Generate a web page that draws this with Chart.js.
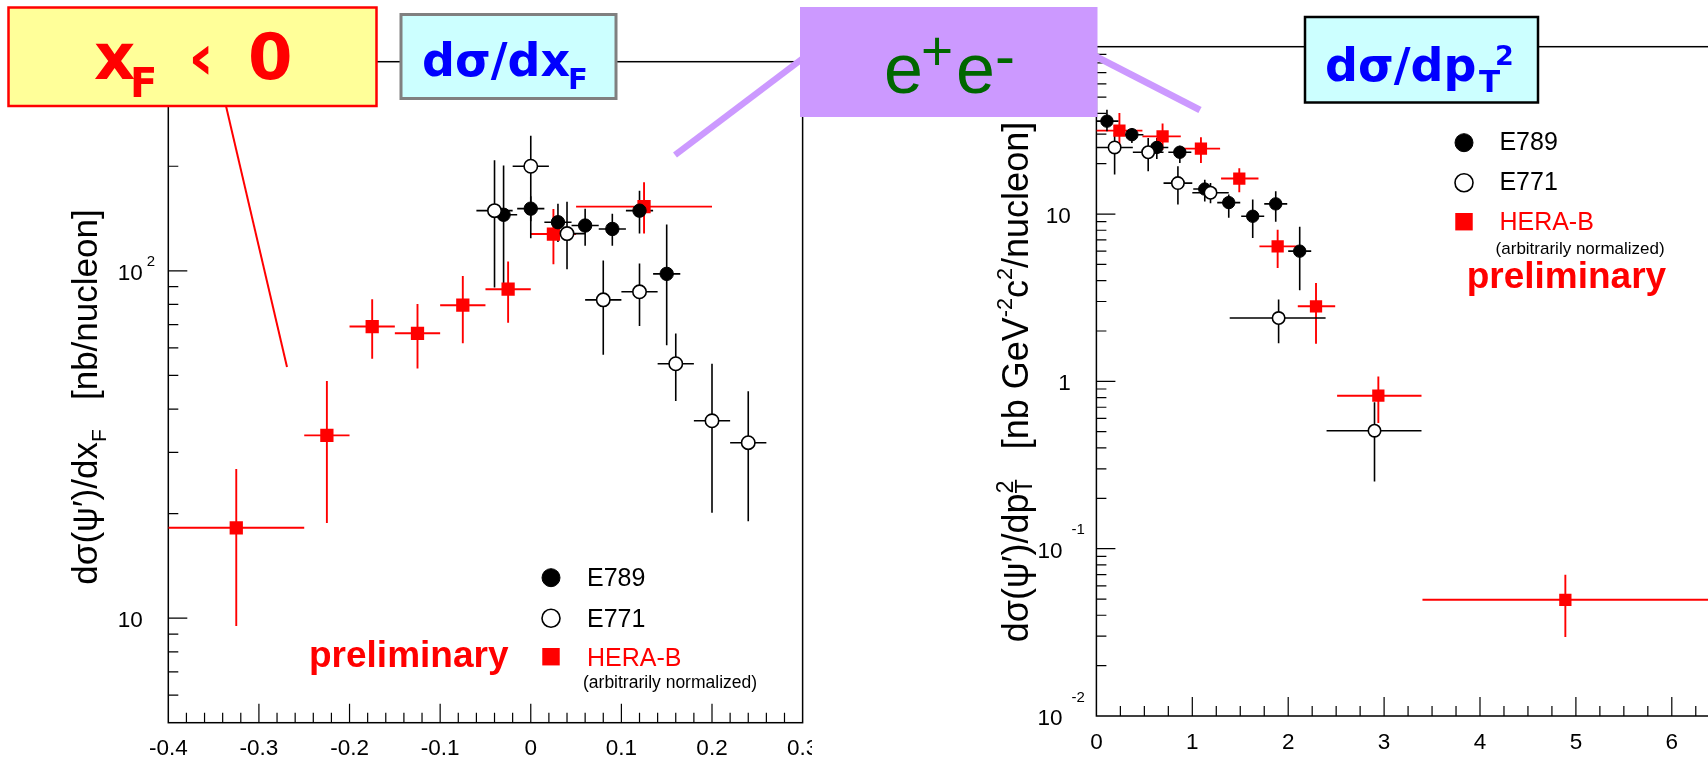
<!DOCTYPE html>
<html lang="en">
<head>
<meta charset="utf-8">
<title>psi' differential cross sections</title>
<script src="https://cdn.jsdelivr.net/npm/chart.js"></script>
<style>
    body {
        margin: 0;
        width: 1708px;
        height: 762px;
        overflow: hidden;
        position: relative;
        background: #fff;
    }
    canvas, svg { position: absolute; top: 0; }
    #xfChart { left: 0; }
    #ptChart { left: 812px; }
    #notes { left: 0; pointer-events: none; }
    .bold { font-family: "DejaVu Sans", Verdana, sans-serif; font-weight: bold; }
    .plain { font-family: "Liberation Sans", Arial, sans-serif; }
</style>
</head>
<body>
<canvas id="xfChart" width="812" height="762"></canvas>
<canvas id="ptChart" width="968" height="762"></canvas>

<svg id="notes" width="1708" height="762">
    <!-- callout lines go under the boxes -->
    <line x1="226" y1="106" x2="287" y2="367" stroke="#ff0000" stroke-width="2"/>
    <line x1="802" y1="59" x2="675" y2="155" stroke="#cc99ff" stroke-width="6.5"/>
    <line x1="1095" y1="56" x2="1200" y2="110" stroke="#cc99ff" stroke-width="7"/>

    <rect x="8.5" y="7.5" width="368" height="98.5" fill="#ffff99" stroke="#ff0000" stroke-width="2.5"/>
    <g class="bold" fill="#ff0000">
        <text x="94" y="79" font-size="64">x</text>
        <text x="130" y="97" font-size="40">F</text>
        <text x="188" y="79" font-size="64">‹</text>
        <text x="248" y="79" font-size="64">0</text>
    </g>

    <rect x="401" y="14.5" width="215" height="84" fill="#ccffff" stroke="#808080" stroke-width="3"/>
    <g class="bold" fill="#0000ff">
        <text x="422" y="76" font-size="46">dσ/dx</text>
        <text x="568" y="89" font-size="29">F</text>
    </g>

    <rect x="800" y="7" width="297.5" height="110" fill="#cc99ff"/>
    <g class="plain" fill="#006600">
        <text x="884" y="93" font-size="70">e</text>
        <text x="921" y="70" font-size="55">+</text>
        <text x="956" y="93" font-size="70">e</text>
        <text x="995" y="76" font-size="60">-</text>
    </g>

    <rect x="1305" y="17" width="233" height="85.5" fill="#ccffff" stroke="#000" stroke-width="2.5"/>
    <g class="bold" fill="#0000ff">
        <text x="1325" y="81" font-size="46">dσ/dp</text>
        <text x="1479" y="92" font-size="31">T</text>
        <text x="1495" y="65" font-size="27">2</text>
    </g>
</svg>

<script>
    // ---- dσ/dxF ----
    const xfE789X   = [-0.03, 0.00, 0.03, 0.06, 0.09, 0.12, 0.15];
    const xfE789Y   = [145, 151, 138, 135, 132, 149, 98];
    const xfE789Lo  = [88, 139, 121, 118, 118, 128, 61];
    const xfE789Hi  = [201, 164, 156, 151, 146, 170, 136];
    const xfE789XLo = [-0.045, -0.015, 0.015, 0.045, 0.075, 0.105, 0.135];
    const xfE789XHi = [-0.015, 0.015, 0.045, 0.075, 0.105, 0.135, 0.165];

    const xfE771X   = [-0.04, 0.00, 0.04, 0.08, 0.12, 0.16, 0.20, 0.24];
    const xfE771Y   = [149, 200, 128, 82.5, 87, 54, 37, 32];
    const xfE771Lo  = [89.5, 124, 101, 57.3, 69.4, 42.2, 20.1, 19];
    const xfE771Hi  = [208, 245, 158, 107, 105, 66, 54, 45];
    const xfE771XLo = [-0.06, -0.02, 0.02, 0.06, 0.10, 0.14, 0.18, 0.22];
    const xfE771XHi = [-0.02, 0.02, 0.06, 0.10, 0.14, 0.18, 0.22, 0.26];

    const xfHeraX   = [-0.325, -0.225, -0.175, -0.125, -0.075, -0.025, 0.025, 0.125];
    const xfHeraY   = [18.2, 33.6, 69.1, 66.1, 79.6, 88.5, 127.6, 153];
    const xfHeraLo  = [9.5, 18.8, 55.8, 52.3, 61.9, 70.9, 104.5, 128];
    const xfHeraHi  = [26.9, 48.2, 82.8, 80.3, 96.7, 106.4, 150.6, 180];
    const xfHeraXLo = [-0.4, -0.25, -0.2, -0.15, -0.1, -0.05, 0.0, 0.05];
    const xfHeraXHi = [-0.25, -0.2, -0.15, -0.1, -0.05, 0.0, 0.05, 0.2];

    const xfXTicks  = [-0.4, -0.3, -0.2, -0.1, 0, 0.1, 0.2, 0.3];
    const xfXLabels = ['-0.4', '-0.3', '-0.2', '-0.1', '0', '0.1', '0.2', '0.3'];
    const xfYTicks  = [10, 100];
    const xfYLabels = [['10', ''], ['10', '2']];

    // ---- dσ/dpT² ----
    const ptE789X   = [0.11, 0.37, 0.63, 0.87, 1.13, 1.38, 1.63, 1.87, 2.12];
    const ptE789Y   = [35.9, 29.8, 25.0, 23.4, 14.1, 11.7, 9.7, 11.5, 6.0];
    const ptE789Lo  = [31.2, 26.6, 21.3, 20.2, 11.9, 9.5, 7.2, 9.0, 3.5];
    const ptE789Hi  = [42.0, 32.7, 28.5, 25.6, 16.0, 13.1, 12.2, 13.7, 8.4];
    const ptE789XLo = [0.0, 0.25, 0.51, 0.75, 1.01, 1.26, 1.51, 1.75, 2.0];
    const ptE789XHi = [0.23, 0.49, 0.75, 0.99, 1.25, 1.50, 1.75, 1.99, 2.24];

    const ptE771X   = [0.19, 0.54, 0.85, 1.19, 1.90, 2.90];
    const ptE771Y   = [25.0, 23.4, 15.3, 13.4, 2.39, 0.507];
    const ptE771Lo  = [17.2, 18.0, 11.4, 11.6, 1.69, 0.252];
    const ptE771Hi  = [30.5, 28.5, 19.3, 15.3, 3.08, 0.75];
    const ptE771XLo = [0.0, 0.38, 0.70, 1.00, 1.39, 2.40];
    const ptE771XHi = [0.38, 0.70, 1.00, 1.38, 2.39, 3.39];

    const ptHeraX   = [0.24, 0.69, 1.09, 1.49, 1.89, 2.29, 2.94, 4.89];
    const ptHeraY   = [31.5, 29.1, 24.6, 16.3, 6.41, 2.81, 0.821, 0.0495];
    const ptHeraLo  = [24.8, 24.2, 20.2, 13.5, 4.75, 1.68, 0.563, 0.0297];
    const ptHeraHi  = [40.2, 34.7, 28.8, 18.8, 8.06, 3.87, 1.07, 0.0698];
    const ptHeraXLo = [0.0, 0.48, 0.88, 1.30, 1.70, 2.10, 2.51, 3.40];
    const ptHeraXHi = [0.48, 0.88, 1.29, 1.69, 2.10, 2.49, 3.39, 7.0];

    const ptXTicks  = [0, 1, 2, 3, 4, 5, 6, 7];
    const ptXLabels = ['0', '1', '2', '3', '4', '5', '6', '7'];
    const ptYTicks  = [0.01, 0.1, 1, 10, 100];
    const ptYLabels = [['10', '-2'], ['10', '-1'], ['1', ''], ['10', ''], ['10', '2']];

    const FONT = '"Liberation Sans", Arial, Helvetica, sans-serif';

    // rich text: plain runs, shifted runs (sub/sup) and stacked sub+sup
    function partWidth(ctx, p, size) {
        ctx.font = `${size * (p.scale || 1)}px ${FONT}`;
        if (p.stack) return Math.max(...p.stack.map(t => ctx.measureText(t).width));
        return ctx.measureText(p.t).width;
    }
    function drawRich(ctx, parts, x, y, size) {
        let cx = x;
        ctx.textAlign = 'left';
        ctx.textBaseline = 'alphabetic';
        for (const p of parts) {
            const w = partWidth(ctx, p, size);
            if (p.stack) {
                ctx.fillText(p.stack[0], cx, y + p.dy[0]);
                ctx.fillText(p.stack[1], cx, y + p.dy[1]);
            } else {
                ctx.fillText(p.t, cx, y + (p.dy || 0));
            }
            cx += w;
        }
        return cx - x;
    }
    function richWidth(ctx, parts, size) {
        return parts.reduce((s, p) => s + partWidth(ctx, p, size), 0);
    }

    function drawMarker(ctx, ds, x, y, r) {
        ctx.save();
        ctx.fillStyle = ds.backgroundColor;
        ctx.strokeStyle = ds.borderColor;
        ctx.lineWidth = ds.borderWidth;
        ctx.beginPath();
        if (ds.pointStyle === 'rect') {
            const h = r * 0.97;
            ctx.rect(x - h, y - h, 2 * h, 2 * h);
            ctx.fill();
        } else {
            ctx.arc(x, y, r, 0, Math.PI * 2);
            ctx.fill();
            ctx.stroke();
        }
        ctx.restore();
    }

    // ROOT-like frame: ticks inside the box, log minors, exponent labels,
    // error bars and the legend
    function rootFrame(cfg) {
        return {
            id: 'rootFrame',
            beforeDatasetsDraw(chart) {
                const { ctx, chartArea: a, scales: { x, y } } = chart;
                ctx.save();
                ctx.strokeStyle = '#000';
                ctx.fillStyle = '#000';
                ctx.lineWidth = 1.5;
                ctx.strokeRect(a.left, a.top, a.width, a.height);

                ctx.lineWidth = 1.2;
                ctx.beginPath();
                const n = Math.round((x.max - x.min) / cfg.xMinorStep);
                for (let i = 1; i < n; i++) {
                    const v = x.min + i * cfg.xMinorStep;
                    const major = cfg.xTicks.some(t => Math.abs(t - v) < 1e-9);
                    const px = x.getPixelForValue(v);
                    ctx.moveTo(px, a.bottom);
                    ctx.lineTo(px, a.bottom - (major ? cfg.majorLen : cfg.minorLen));
                }
                for (let e = Math.floor(Math.log10(y.min)); e <= Math.ceil(Math.log10(y.max)); e++) {
                    for (let m = 1; m <= 9; m++) {
                        const v = m * Math.pow(10, e);
                        if (v <= y.min * 1.0001 || v >= y.max * 0.9999) continue;
                        const py = y.getPixelForValue(v);
                        ctx.moveTo(a.left, py);
                        ctx.lineTo(a.left + (m === 1 ? cfg.majorLen : cfg.minorLen), py);
                    }
                }
                ctx.stroke();

                // tick labels
                ctx.textBaseline = 'alphabetic';
                ctx.font = `${cfg.labelSize}px ${FONT}`;
                ctx.textAlign = 'center';
                cfg.xTicks.forEach((v, i) => {
                    ctx.fillText(cfg.xLabels[i], x.getPixelForValue(v), cfg.xLabelY);
                });
                cfg.yTicks.forEach((v, i) => {
                    const [base, exp] = cfg.yLabels[i];
                    const py = y.getPixelForValue(v);
                    const right = a.left - cfg.yLabelGap - (exp ? cfg.expShift : 0);
                    ctx.font = `${cfg.labelSize}px ${FONT}`;
                    ctx.textAlign = 'right';
                    ctx.fillText(base, right, py + cfg.yLabelDy);
                    if (exp) {
                        ctx.font = `${cfg.expSize}px ${FONT}`;
                        ctx.textAlign = 'left';
                        ctx.fillText(exp, right + cfg.expGap, py + cfg.expDy);
                    }
                });

                // rotated y title
                ctx.save();
                ctx.translate(cfg.titleX, cfg.titleY);
                ctx.rotate(-Math.PI / 2);
                const w = richWidth(ctx, cfg.title, cfg.titleSize);
                drawRich(ctx, cfg.title, -w / 2, 0, cfg.titleSize);
                ctx.restore();

                // error bars, back to front
                ctx.beginPath();
                ctx.rect(a.left, a.top, a.width, a.height);
                ctx.clip();
                const sets = chart.data.datasets.slice().sort((p, q) => q.order - p.order);
                for (const ds of sets) {
                    ctx.strokeStyle = ds.borderColor;
                    ctx.lineWidth = ds.errWidth;
                    ctx.beginPath();
                    ds.data.forEach((pt, i) => {
                        const px = x.getPixelForValue(pt.x);
                        const py = y.getPixelForValue(pt.y);
                        ctx.moveTo(px, y.getPixelForValue(ds.errLo[i]));
                        ctx.lineTo(px, y.getPixelForValue(ds.errHi[i]));
                        ctx.moveTo(x.getPixelForValue(ds.binLo[i]), py);
                        ctx.lineTo(x.getPixelForValue(ds.binHi[i]), py);
                    });
                    ctx.stroke();
                }
                ctx.restore();
            },
            afterDatasetsDraw(chart) {
                const { ctx } = chart;
                const lg = cfg.legend;
                ctx.save();
                ctx.textAlign = 'left';
                ctx.textBaseline = 'alphabetic';
                chart.data.datasets.forEach((ds, i) => {
                    drawMarker(ctx, ds, lg.mx, lg.my[i], lg.r);
                    ctx.font = `${lg.size}px ${FONT}`;
                    ctx.fillStyle = ds.textColor;
                    ctx.fillText(ds.label, lg.tx, lg.ty[i]);
                });
                ctx.font = `${lg.noteSize}px ${FONT}`;
                ctx.fillStyle = '#000';
                ctx.fillText('(arbitrarily normalized)', lg.noteX, lg.noteY);
                ctx.fillStyle = '#ff0000';
                ctx.font = `bold ${lg.preSize}px ${FONT}`;
                ctx.fillText('preliminary', lg.preX, lg.preY);
                ctx.restore();
            }
        };
    }

    function makeSet(label, xs, ys, lo, hi, xLo, xHi, look) {
        return Object.assign({
            label: label,
            data: xs.map((x, i) => ({ x: x, y: ys[i] })),
            errLo: lo, errHi: hi, binLo: xLo, binHi: xHi
        }, look);
    }

    function looks(r) {
        return {
            e789: { pointStyle: 'circle', pointRadius: r, backgroundColor: '#000', borderColor: '#000',
                    borderWidth: 1, errWidth: 1.6, order: 2, textColor: '#000' },
            e771: { pointStyle: 'circle', pointRadius: r, backgroundColor: '#fff', borderColor: '#000',
                    borderWidth: 1.6, errWidth: 1.6, order: 1, textColor: '#000' },
            hera: { pointStyle: 'rect', pointRadius: r * 1.4, backgroundColor: '#ff0000', borderColor: '#ff0000',
                    borderWidth: 0, errWidth: 1.9, order: 3, textColor: '#ff0000' }
        };
    }

    function baseOptions(pad, xr, yr) {
        return {
            responsive: false,
            animation: false,
            events: [],
            layout: { padding: pad },
            plugins: { legend: { display: false }, tooltip: { enabled: false } },
            scales: {
                x: { type: 'linear', min: xr[0], max: xr[1], display: false },
                y: { type: 'logarithmic', min: yr[0], max: yr[1], display: false }
            }
        };
    }

    const lk1 = looks(6.7);
    new Chart(document.getElementById('xfChart'), {
        type: 'scatter',
        data: {
            datasets: [
                makeSet('E789', xfE789X, xfE789Y, xfE789Lo, xfE789Hi, xfE789XLo, xfE789XHi, lk1.e789),
                makeSet('E771', xfE771X, xfE771Y, xfE771Lo, xfE771Hi, xfE771XLo, xfE771XHi, lk1.e771),
                makeSet('HERA-B', xfHeraX, xfHeraY, xfHeraLo, xfHeraHi, xfHeraXLo, xfHeraXHi, lk1.hera)
            ]
        },
        options: baseOptions({ left: 168.3, right: 6, top: 61.7, bottom: 39.3 }, [-0.4, 0.3], [5, 400]),
        plugins: [rootFrame({
            xTicks: xfXTicks, xLabels: xfXLabels, yTicks: xfYTicks, yLabels: xfYLabels,
            xMinorStep: 0.02, majorLen: 19, minorLen: 10,
            labelSize: 22.5, xLabelY: 755, yLabelGap: 25.6, yLabelDy: 9,
            expShift: 0, expGap: 4, expSize: 15, expDy: -5,
            titleX: 97, titleY: 397, titleSize: 35,
            title: [{ t: 'dσ(ψ′)/dx' }, { t: 'F', scale: 0.6, dy: 9 }, { t: '   [nb/nucleon]' }],
            legend: { mx: 551, my: [577.7, 618.3, 656.7], r: 9, tx: 587, ty: [586, 626.5, 666], size: 25,
                      noteX: 583, noteY: 688, noteSize: 17.5, preX: 309, preY: 667, preSize: 37 }
        })]
    });

    const lk2 = looks(6.2);
    new Chart(document.getElementById('ptChart'), {
        type: 'scatter',
        data: {
            datasets: [
                makeSet('E789', ptE789X, ptE789Y, ptE789Lo, ptE789Hi, ptE789XLo, ptE789XHi, lk2.e789),
                makeSet('E771', ptE771X, ptE771Y, ptE771Lo, ptE771Hi, ptE771XLo, ptE771XHi, lk2.e771),
                makeSet('HERA-B', ptHeraX, ptHeraY, ptHeraLo, ptHeraHi, ptHeraXLo, ptHeraXHi, lk2.hera)
            ]
        },
        options: baseOptions({ left: 284.4, right: 12.3, top: 46.7, bottom: 46 }, [0, 7], [0.01, 100]),
        plugins: [rootFrame({
            xTicks: ptXTicks, xLabels: ptXLabels, yTicks: ptYTicks, yLabels: ptYLabels,
            xMinorStep: 0.25, majorLen: 19, minorLen: 10,
            labelSize: 22.5, xLabelY: 749, yLabelGap: 25.6, yLabelDy: 9,
            expShift: 8.3, expGap: 9, expSize: 15, expDy: -14.3,
            titleX: 216, titleY: 382, titleSize: 36,
            title: [{ t: 'dσ(ψ′)/dp' }, { stack: ['2', 'T'], scale: 0.65, dy: [-15, 4] },
                    { t: '   [nb GeV' }, { t: '-2', scale: 0.6, dy: -16 }, { t: 'c' },
                    { t: '2', scale: 0.6, dy: -16 }, { t: '/nucleon]' }],
            legend: { mx: 652, my: [142.7, 182.7, 221.7], r: 9, tx: 687.4, ty: [150, 190, 230], size: 25,
                      noteX: 683.6, noteY: 254, noteSize: 17, preX: 654.7, preY: 288, preSize: 37 }
        })]
    });
</script>
</body>
</html>
